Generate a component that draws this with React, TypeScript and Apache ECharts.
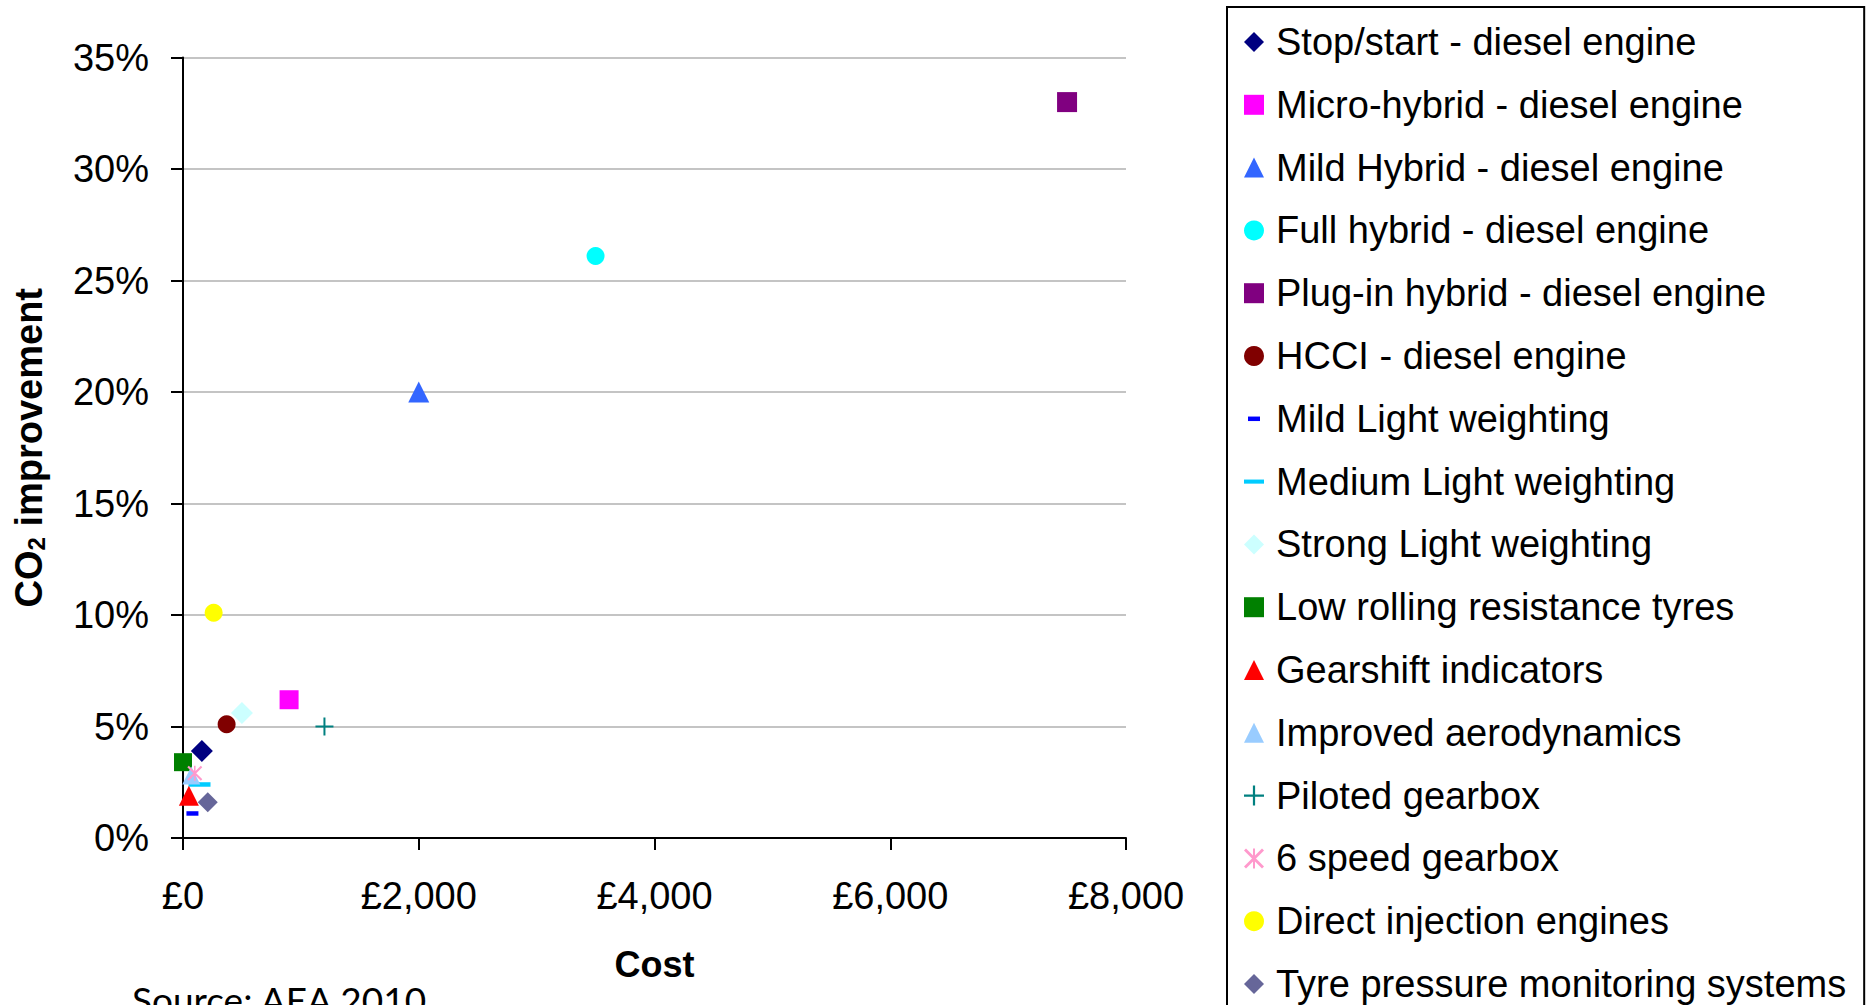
import React, { useEffect, useRef } from 'react';
import * as echarts from 'echarts';

// ---------- data ----------
const seriesNames = [
  'Stop/start - diesel engine',
  'Micro-hybrid - diesel engine',
  'Mild Hybrid - diesel engine',
  'Full hybrid - diesel engine',
  'Plug-in hybrid - diesel engine',
  'HCCI - diesel engine',
  'Mild Light weighting',
  'Medium Light weighting',
  'Strong Light weighting',
  'Low rolling resistance tyres',
  'Gearshift indicators',
  'Improved aerodynamics',
  'Piloted gearbox',
  '6 speed gearbox',
  'Direct injection engines',
  'Tyre pressure monitoring systems',
];
// cost in £
const costs = [160, 900, 2000, 3500, 7500, 370, 80, 140, 500, 0, 50, 70, 1200, 100, 260, 210];
// CO2 improvement in %
const co2Improvements = [3.9, 6.2, 20.0, 26.1, 33.0, 5.1, 1.1, 2.4, 5.6, 3.4, 1.9, 2.8, 5.0, 2.9, 10.1, 1.6];

const xTickValues = [0, 2000, 4000, 6000, 8000];
const xTickLabels = ['£0', '£2,000', '£4,000', '£6,000', '£8,000'];
const yTickValues = [0, 5, 10, 15, 20, 25, 30, 35];
const yTickLabels = ['0%', '5%', '10%', '15%', '20%', '25%', '30%', '35%'];

// ---------- styles ----------
const DASH_S = 'path://M0,0M20,20M4,7.75H16V12.25H4Z';
const DASH_M = 'path://M0,0M22,20M0,7.75H22V12.25H0Z';
const PLUS = 'path://M8,0H10V8H18V10H10V18H8V10H0V8H8Z';
const ASTER = 'path://M0,1L1,0L10,9L9,10Z M9,0L10,1L1,10L0,9Z M4.5,0H5.5V10H4.5Z';

const colors = [
  '#000080', '#FF00FF', '#3366FF', '#00FFFF', '#800080', '#800000',
  '#0000FF', '#00CCFF', '#CCFFFF', '#008000', '#FF0000', '#99CCFF',
  '#008080', '#FF99CC', '#FFFF00', '#666699',
];
const symbols = [
  'diamond', 'rect', 'triangle', 'circle', 'rect', 'circle',
  DASH_S, DASH_M, 'diamond', 'rect', 'triangle', 'triangle',
  PLUS, ASTER, 'circle', 'diamond',
];
const symbolSizes: (number | number[])[] = [
  22, 19, 21, 18, 20, 18,
  20, [22, 20], 22, 18, 20, 18,
  18, 15, 18, 20,
];

const FONT = 'Liberation Sans, Arial, sans-serif';

export default function App() {
  const ref = useRef<HTMLDivElement>(null);

  useEffect(() => {
    if (!ref.current) return;
    const chart = echarts.init(ref.current, null, { renderer: 'svg' });

    const series = seriesNames.map((name, i) => ({
      type: 'scatter',
      name,
      data: [[costs[i], co2Improvements[i]]],
      symbol: symbols[i],
      symbolSize: symbolSizes[i],
      itemStyle: { color: colors[i], opacity: 1 },
      emphasis: { disabled: true },
    }));

    const option: any = {
      animation: false,
      backgroundColor: '#ffffff',
      textStyle: { fontFamily: FONT },
      grid: {
        left: 183,
        top: 57.5,
        width: 943,
        height: 780.5,
        containLabel: false,
        outerBoundsMode: 'none',
      },
      xAxis: {
        type: 'value',
        min: 0,
        max: 8000,
        interval: 2000,
        name: 'Cost',
        nameLocation: 'middle',
        nameGap: 108,
        nameTextStyle: { fontSize: 36, fontWeight: 'bold', color: '#000', fontFamily: FONT },
        axisLine: { show: true, onZero: false, lineStyle: { color: '#000', width: 2 } },
        axisTick: { show: true, length: 12, lineStyle: { color: '#000', width: 2 } },
        axisLabel: {
          fontSize: 38,
          color: '#000',
          margin: 39,
          fontFamily: FONT,
          formatter: (v: number) => {
            const idx = xTickValues.indexOf(v);
            return idx >= 0 ? xTickLabels[idx] : '';
          },
        },
        splitLine: { show: false },
      },
      yAxis: {
        type: 'value',
        min: 0,
        max: 35,
        interval: 5,
        name: 'CO{s|2} improvement',
        nameLocation: 'middle',
        nameGap: 135,
        nameTextStyle: {
          fontSize: 38,
          fontWeight: 'bold',
          color: '#000',
          fontFamily: FONT,
          rich: {
            s: { fontSize: 24, fontWeight: 'bold', color: '#000', fontFamily: FONT, verticalAlign: 'bottom' },
          },
        },
        axisLine: { show: true, onZero: false, lineStyle: { color: '#000', width: 2 } },
        axisTick: { show: true, length: 12, lineStyle: { color: '#000', width: 2 } },
        axisLabel: {
          fontSize: 38,
          color: '#000',
          margin: 34,
          fontFamily: FONT,
          formatter: (v: number) => {
            const idx = yTickValues.indexOf(v);
            return idx >= 0 ? yTickLabels[idx] : '';
          },
        },
        splitLine: { show: true, lineStyle: { color: '#c4c4c4', width: 2 } },
      },
      legend: {
        orient: 'vertical',
        left: 1227,
        top: 7,
        padding: [16, 18, 80, 17],
        itemWidth: 20,
        itemHeight: 20,
        itemGap: 24.8,
        borderColor: '#000',
        borderWidth: 2,
        backgroundColor: '#fff',
        selectedMode: false,
        textStyle: {
          fontSize: 38,
          lineHeight: 38,
          fontFamily: FONT,
          color: '#000',
          padding: [0, 0, 0, 7],
        },
        data: seriesNames,
      },
      graphic: [
        {
          type: 'text',
          x: 132,
          y: 999,
          silent: true,
          style: {
            text: 'Source: AEA 2010',
            fontSize: 37,
            fontFamily: 'Lato, Carlito, sans-serif',
            fill: '#000',
            verticalAlign: 'middle',
          },
        },
      ],
      series,
    };

    chart.setOption(option);
    return () => chart.dispose();
  }, []);

  return (
    <div
      ref={ref}
      style={{ position: 'fixed', left: 0, top: 0, width: 1866, height: 1100, background: '#fff' }}
    />
  );
}
